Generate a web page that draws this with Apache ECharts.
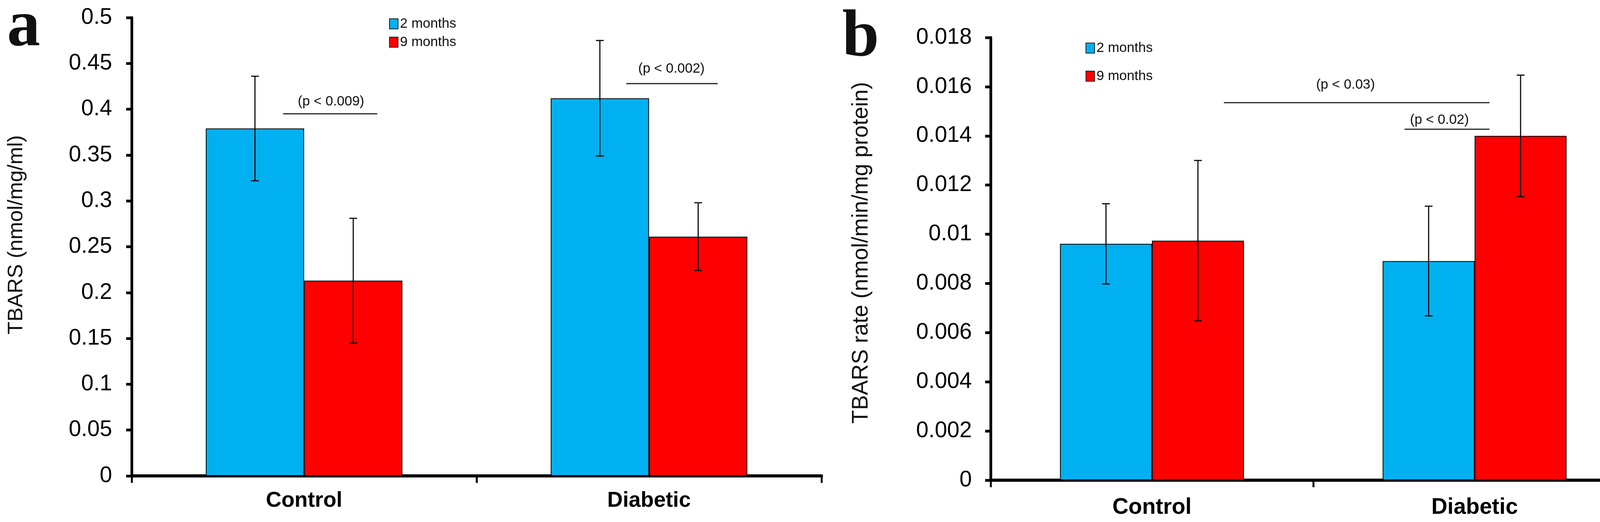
<!DOCTYPE html>
<html>
<head>
<meta charset="utf-8">
<script src="https://cdn.jsdelivr.net/npm/echarts@6/dist/echarts.min.js"></script>
<style>html,body{margin:0;padding:0;background:#fff}#c{width:4205px;height:1336px}</style>
</head>
<body>
<div id="c"></div>
<script>
// ---- data ----
const categories = ['Control', 'Diabetic'];
const seriesNames = ['2 months', '9 months'];
// panel a: TBARS (nmol/mg/ml)
const aMean2 = [0.379, 0.412];
const aErr2 = [0.057, 0.063];
const aMean9 = [0.213, 0.261];
const aErr9 = [0.068, 0.037];
// panel b: TBARS rate (nmol/min/mg protein)
const bMean2 = [0.00961, 0.00891];
const bErr2 = [0.00163, 0.00223];
const bMean9 = [0.00974, 0.01400];
const bErr9 = [0.00326, 0.00247];
// significance annotations: [x from, x to (category units), y value, text x, text y]
const aSigLabels = ['(p < 0.009)', '(p < 0.002)'];
const aSig = [[-0.061, 0.212, 0.395, 0.078, 0.408], [0.934, 1.199, 0.428, 1.065, 0.444]];
const bSigLabels = ['(p < 0.03)', '(p < 0.02)'];
const bSig = [[0.223, 1.046, 0.01535, 0.600, 0.01608], [0.783, 1.046, 0.01427, 0.891, 0.01465]];
const aTitle = 'TBARS (nmol/mg/ml)';
const bTitle = 'TBARS rate (nmol/min/mg protein)';

const BLUE = '#00B0F0', RED = '#FF0000';
const GAP = 0.43;

const chart = echarts.init(document.getElementById('c'), null, {renderer: 'canvas'});

function errRender(sign) {
  return function (params, api) {
    const ci = api.value(0);
    const lo = api.coord([ci, api.value(1)]);
    const hi = api.coord([ci, api.value(2)]);
    const catW = api.size([1, 0])[0];
    const bw = catW * (1 - GAP) / 2;
    const x = lo[0] + sign * bw / 2;
    const c = 10;
    const st = {stroke: '#111', lineWidth: 3};
    return {type: 'group', children: [
      {type: 'line', shape: {x1: x, y1: lo[1], x2: x, y2: hi[1]}, style: st},
      {type: 'line', shape: {x1: x - c, y1: lo[1], x2: x + c, y2: lo[1]}, style: st},
      {type: 'line', shape: {x1: x - c, y1: hi[1], x2: x + c, y2: hi[1]}, style: st}
    ]};
  };
}
function sigRender(labels) {
  return function (params, api) {
    const p1 = api.coord([api.value(0), api.value(2)]);
    const p2 = api.coord([api.value(1), api.value(2)]);
    const t = api.coord([api.value(3), api.value(4)]);
    return {type: 'group', children: [
      {type: 'line', shape: {x1: p1[0], y1: p1[1], x2: p2[0], y2: p2[1]}, style: {stroke: '#222', lineWidth: 3}},
      {type: 'text', x: t[0], y: t[1], style: {text: labels[params.dataIndex], font: '35px "Liberation Sans", Arial, sans-serif', fill: '#111', align: 'center', verticalAlign: 'middle'}}
    ]};
  };
}
function errData(mean, err) { return mean.map((m, i) => [i, m - err[i], m + err[i]]); }
function fmt(digits) { return v => String(parseFloat(v.toFixed(digits))); }

const yBase = {
  type: 'value', min: 0,
  axisLine: {show: true, onZero: false, lineStyle: {color: '#000', width: 7}},
  axisTick: {show: true, inside: false, length: 14, lineStyle: {color: '#000', width: 7}},
  splitLine: {show: false},
  axisLabel: {fontSize: 57, color: '#000', fontFamily: '"Liberation Sans", Arial, sans-serif', margin: 50}
};
const xBase = {
  type: 'category', data: categories,
  axisLine: {show: true, onZero: false, lineStyle: {color: '#000', width: 8}},
  axisTick: {show: true, length: 18, lineStyle: {color: '#000', width: 5}},
  axisLabel: {fontSize: 55, fontWeight: 'bold', color: '#000', fontFamily: '"Liberation Sans", Arial, sans-serif', margin: 36}
};
const xHidden = {type: 'value', min: -0.5, max: 1.5, show: false};

const barStyle = c => ({color: c, borderColor: '#000', borderWidth: 2});
const legendText = {fontSize: 35, color: '#111', fontFamily: '"Liberation Sans", Arial, sans-serif', lineHeight: 40};

chart.setOption({
  backgroundColor: '#fff',
  animation: false,
  grid: [
    {left: 337, top: 45, width: 1766, height: 1173},
    {left: 2536, top: 96, width: 1652, height: 1133}
  ],
  xAxis: [
    Object.assign({gridIndex: 0}, xBase),
    Object.assign({gridIndex: 1}, xBase, {axisLabel: Object.assign({}, xBase.axisLabel, {fontSize: 57, margin: 42})}),
    Object.assign({gridIndex: 0}, xHidden),
    Object.assign({gridIndex: 1}, xHidden)
  ],
  yAxis: [
    Object.assign({gridIndex: 0}, yBase, {max: 0.5, interval: 0.05, axisLabel: Object.assign({}, yBase.axisLabel, {formatter: fmt(3)})}),
    Object.assign({gridIndex: 1}, yBase, {max: 0.018, interval: 0.002, axisLabel: Object.assign({}, yBase.axisLabel, {margin: 48, formatter: fmt(4)})})
  ],
  legend: [
    {left: 996, top: 41, orient: 'vertical', padding: 0, icon: 'rect', itemWidth: 22, itemHeight: 26, itemGap: 7, data: seriesNames, textStyle: legendText,
     itemStyle: {borderColor: '#222', borderWidth: 2}},
    {left: 2779, top: 103, orient: 'vertical', padding: 0, icon: 'rect', itemWidth: 22, itemHeight: 26, itemGap: 32, data: seriesNames, textStyle: legendText,
     itemStyle: {borderColor: '#222', borderWidth: 2}}
  ],
  graphic: [
    {type: 'text', x: 18, y: 72, style: {text: 'a', font: 'bold 170px "Liberation Serif", "Times New Roman", serif', fill: '#111', verticalAlign: 'middle'}},
    {type: 'text', x: 2156, y: 98, style: {text: 'b', font: 'bold 170px "Liberation Serif", "Times New Roman", serif', fill: '#111', verticalAlign: 'middle'}},
    {type: 'text', x: 42, y: 601, rotation: Math.PI / 2, style: {text: aTitle, font: '54px "Liberation Sans", Arial, sans-serif', fill: '#111', align: 'center', verticalAlign: 'middle'}},
    {type: 'text', x: 2205, y: 647, rotation: Math.PI / 2, style: {text: bTitle, font: '57px "Liberation Sans", Arial, sans-serif', fill: '#111', align: 'center', verticalAlign: 'middle'}}
  ],
  series: [
    {name: seriesNames[0], type: 'bar', xAxisIndex: 0, yAxisIndex: 0, data: aMean2, barGap: '0%', barCategoryGap: '43%', itemStyle: barStyle(BLUE)},
    {name: seriesNames[1], type: 'bar', xAxisIndex: 0, yAxisIndex: 0, data: aMean9, barGap: '0%', barCategoryGap: '43%', itemStyle: barStyle(RED)},
    {name: seriesNames[0], type: 'bar', xAxisIndex: 1, yAxisIndex: 1, data: bMean2, barGap: '0%', barCategoryGap: '43%', itemStyle: barStyle(BLUE)},
    {name: seriesNames[1], type: 'bar', xAxisIndex: 1, yAxisIndex: 1, data: bMean9, barGap: '0%', barCategoryGap: '43%', itemStyle: barStyle(RED)},
    {type: 'custom', xAxisIndex: 0, yAxisIndex: 0, renderItem: errRender(-1), data: errData(aMean2, aErr2), z: 5},
    {type: 'custom', xAxisIndex: 0, yAxisIndex: 0, renderItem: errRender(1), data: errData(aMean9, aErr9), z: 5},
    {type: 'custom', xAxisIndex: 1, yAxisIndex: 1, renderItem: errRender(-1), data: errData(bMean2, bErr2), z: 5},
    {type: 'custom', xAxisIndex: 1, yAxisIndex: 1, renderItem: errRender(1), data: errData(bMean9, bErr9), z: 5},
    {type: 'custom', xAxisIndex: 2, yAxisIndex: 0, renderItem: sigRender(aSigLabels), data: aSig, z: 6},
    {type: 'custom', xAxisIndex: 3, yAxisIndex: 1, renderItem: sigRender(bSigLabels), data: bSig, z: 6}
  ]
});
</script>
</body>
</html>
